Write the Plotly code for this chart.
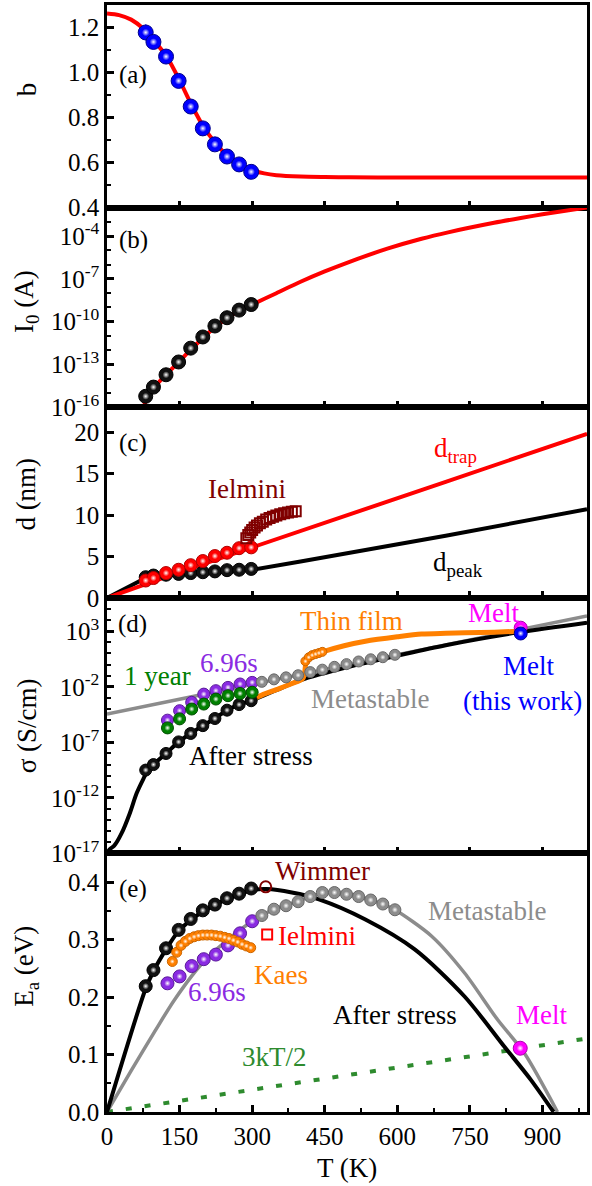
import plotly.graph_objects as go
from plotly.subplots import make_subplots

FONT = "Liberation Serif, serif"

# ---------------- data ----------------
T_pts = [80, 96, 122, 148, 173, 198, 223, 248, 273, 298]
T_pts8 = [125, 150, 175, 200, 225, 250, 275, 300]
T_meta = [320, 345, 370, 395, 420, 445, 470, 495, 520, 545, 570, 595]

# (a) exponent b
b_pts = [1.178, 1.136, 1.071, 0.963, 0.849, 0.752, 0.681, 0.627, 0.592, 0.559]
b_err = [0.035, 0, 0, 0, 0, 0, 0, 0, 0, 0]
T_bfit = [0, 25, 50, 75, 100, 125, 150, 175, 200, 225, 250, 275, 300, 325, 350, 400, 450, 500, 600, 800, 992]
b_fit = [1.262, 1.255, 1.235, 1.195, 1.135, 1.065, 0.965, 0.855, 0.757, 0.685, 0.628, 0.59, 0.566, 0.552, 0.544,
         0.538, 0.536, 0.535, 0.534, 0.534, 0.534]

# (b) prefactor I0
I0_pts = [5.9e-16, 2.6e-15, 1.9e-14, 1.5e-13, 1.4e-12, 8.5e-12, 5.0e-11, 1.9e-10, 6.5e-10, 1.6e-9]
T_Ifit = [75, 80, 100, 125, 150, 175, 200, 225, 250, 275, 300, 350, 400, 450, 500, 581, 650, 705, 800, 855, 900, 992]
I0_fit = [1e-16, 2.5e-16, 3.0e-15, 2.4e-14, 1.7e-13, 1.3e-12, 8e-12, 4.8e-11, 1.9e-10, 6.3e-10, 1.6e-9, 1.0e-8,
          6.3e-8, 3.35e-7, 1.53e-6, 1.38e-5, 6.56e-5, 1.85e-4, 8.6e-4, 1.88e-3, 3.39e-3, 1.02e-2]

# (c) distances
dtrap_pts = [2.1, 2.4, 3.0, 3.4, 3.95, 4.45, 5.05, 5.45, 6.0, 6.1]
dpeak_pts = [2.5, 2.7, 2.8, 2.9, 3.0, 3.1, 3.2, 3.35, 3.4, 3.5]
T_dtrap = [0, 80, 150, 300, 400, 700, 992]
dtrap_line = [0, 1.7, 3.1, 6.1, 8.1, 14.0, 19.8]
T_dpeak = [0, 40, 80, 125, 200, 300, 400, 700, 992]
dpeak_line = [0, 1.2, 2.4, 2.75, 3.05, 3.4, 4.4, 7.5, 10.7]
T_ielm_c = [288, 292, 296, 300, 305, 310, 316, 322, 329, 336, 343, 350, 358, 366, 374, 382, 390]
d_ielm_c = [7.2, 7.6, 7.9, 8.2, 8.5, 8.75, 9.0, 9.2, 9.45, 9.65, 9.8, 9.95, 10.1, 10.2, 10.3, 10.4, 10.45]

# (d) conductivity
sig_after = [3.2e-10, 1.0e-9, 1.0e-8, 1.1e-7, 6.3e-7, 3.2e-6, 1.4e-5, 7.9e-5, 2.5e-4, 5.6e-4]
sig_696s = [1.0e-5, 7.1e-5, 4.0e-4, 2.2e-3, 4.5e-3, 8.9e-3, 1.8e-2, 2.5e-2]
sig_1yr = [2.0e-6, 1.3e-5, 1.0e-4, 2.8e-4, 7.9e-4, 1.6e-3, 2.5e-3, 3.2e-3]
sig_meta = [2.8e-2, 4.7e-2, 7.1e-2, 0.11, 0.21, 0.35, 0.63, 1.1, 1.9, 3.0, 4.6, 7.6]
T_sig_after_line = [0, 6, 15, 30, 47, 61, 75, 85, 96, 122, 148, 173, 198, 223, 248, 273, 298, 350, 400, 500, 600,
                    700, 850, 992]
sig_after_line = [1e-17, 2.5e-17, 5e-17, 6.3e-16, 4.0e-14, 2.5e-12, 5.0e-11, 3.2e-10, 1.0e-9, 1.0e-8, 1.1e-7,
                  6.3e-7, 3.2e-6, 1.4e-5, 7.9e-5, 2.5e-4, 5.6e-4, 5.0e-3, 4.0e-2, 0.63, 6.3, 56, 790, 6.0e3]
T_sig_meta_line = [0, 200, 400, 600, 800, 992]
sig_meta_line = [3.5e-5, 2.1e-3, 0.13, 7.8, 470, 2.4e4]
T_thin = [298, 320, 350, 380, 405, 412, 420, 430, 440, 452, 490, 534, 600, 650, 700, 740, 800, 855]
sig_thin = [6.3e-4, 1.8e-3, 5.6e-3, 1.8e-2, 5.6e-2, 2.0, 5.0, 7.9, 11, 17, 50, 126, 316, 560, 660, 720, 830, 1000]
T_thin_pts = [410, 417, 424, 431, 438, 445]
sig_thin_pts = [2.0, 4.5, 7.1, 8.9, 11, 14]
T_melt = [855]
sig_melt_lit = [2.1e3]
sig_melt_this = [6.3e2]

# (e) activation energy
Ea_after = [0.219, 0.247, 0.285, 0.317, 0.336, 0.351, 0.361, 0.372, 0.380, 0.389]
T_Ea_after_line = [0, 80, 96, 122, 148, 173, 198, 223, 248, 273, 298, 330, 382, 438, 534, 636, 739, 821, 876, 923]
Ea_after_line = [0, 0.215, 0.245, 0.283, 0.315, 0.334, 0.349, 0.36, 0.371, 0.379, 0.386, 0.388, 0.382, 0.37,
                 0.335, 0.283, 0.201, 0.114, 0.056, 0.0]
Ea_696s = [0.224, 0.236, 0.254, 0.266, 0.274, 0.29, 0.311, 0.332]
T_kaes = [135, 144, 153, 162, 171, 180, 189, 198, 207, 216, 225, 234, 243, 252, 261, 270, 279, 288, 297]
Ea_kaes = [0.262, 0.278, 0.29, 0.297, 0.302, 0.305, 0.307, 0.308, 0.308, 0.308, 0.307, 0.306, 0.304, 0.302,
           0.299, 0.296, 0.292, 0.289, 0.286]
Ea_meta = [0.342, 0.353, 0.359, 0.366, 0.375, 0.382, 0.382, 0.379, 0.375, 0.369, 0.362, 0.352]
T_Ea_meta_line = [0, 50, 100, 140, 200, 250, 300, 320, 345, 370, 395, 420, 445, 470, 495, 520, 545, 570, 595, 671,
                  739, 807, 862, 931]
Ea_meta_line = [0, 0.072, 0.142, 0.196, 0.262, 0.3, 0.332, 0.342, 0.353, 0.36, 0.367, 0.375, 0.381, 0.382, 0.379,
                0.375, 0.369, 0.362, 0.352, 0.306, 0.242, 0.161, 0.103, 0.0]
T_wimmer = [328]
Ea_wimmer = [0.392]
T_ielm_e = [331]
Ea_ielm_e = [0.309]
T_3kt = [0, 992]
Ea_3kt = [0, 0.128]
T_melt_e = [854]
Ea_melt_e = [0.111]

x_ticks = [0, 150, 300, 450, 600, 750, 900]

# ---------------- colours ----------------
BLUE = "#0000ff"
RED = "#ff0000"
BLACK = "#000000"
GRAY = "#8c8c8c"
GREEN = "#008000"
PURPLE = "#8a2be2"
ORANGE = "#ff8000"
MAGENTA = "#ff00ff"
MAROON = "#800000"
DGREEN = "#2e8b2e"

fig = make_subplots(rows=5, cols=1, shared_xaxes=True, vertical_spacing=0,
                    row_heights=[203, 200, 191, 256, 259])


def line(row, x, y, color, width=4, dash=None, smooth=False):
    ln = dict(color=color, width=width, dash=dash)
    if smooth:
        ln.update(shape="spline", smoothing=0.8)
    fig.add_trace(go.Scatter(x=x, y=y, mode="lines", line=ln,
                             showlegend=False, hoverinfo="skip"), row=row, col=1)


def spheres(row, x, y, color, size, edge, err=None):
    fig.add_trace(go.Scatter(x=x, y=y, mode="markers",
                             marker=dict(color=color, size=size, line=dict(color=edge, width=1)),
                             error_y=err, showlegend=False, hoverinfo="skip"), row=row, col=1)
    fig.add_trace(go.Scatter(x=x, y=y, mode="markers",
                             marker=dict(color=color, size=size * 0.5, line=dict(width=0),
                                         gradient=dict(type="radial", color="white")),
                             showlegend=False, hoverinfo="skip"), row=row, col=1)


def open_marker(row, x, y, color, symbol, size):
    fig.add_trace(go.Scatter(x=x, y=y, mode="markers",
                             marker=dict(color=color, size=size, symbol=symbol,
                                         line=dict(color=color, width=2)),
                             showlegend=False, hoverinfo="skip"), row=row, col=1)


# (a)
line(1, T_bfit, b_fit, RED, 4, smooth=True)
spheres(1, T_pts, b_pts, BLUE, 15, "#00008b",
        err=dict(type="data", array=b_err, color=BLUE, thickness=1.5, width=0))

# (b)
line(2, T_Ifit, I0_fit, RED, 4, smooth=True)
spheres(2, T_pts, I0_pts, "#111111", 14, BLACK)

# (c)
line(3, T_dpeak, dpeak_line, BLACK, 4)
line(3, T_dtrap, dtrap_line, RED, 4)
spheres(3, T_pts, dpeak_pts, "#111111", 13, BLACK)
spheres(3, T_pts, dtrap_pts, RED, 13, "#b00000")
open_marker(3, T_ielm_c, d_ielm_c, MAROON, "square-open", 10)

# (d)
line(4, T_sig_meta_line, sig_meta_line, GRAY, 3.5)
line(4, T_sig_after_line, sig_after_line, BLACK, 4, smooth=True)
line(4, T_thin, sig_thin, ORANGE, 5, smooth=True)
spheres(4, T_pts, sig_after, "#111111", 12, BLACK)
spheres(4, T_pts8, sig_696s, PURPLE, 12, "#5a1a9a")
spheres(4, T_pts8, sig_1yr, GREEN, 12, "#004d00")
spheres(4, T_meta, sig_meta, GRAY, 11, "#666666")
spheres(4, T_thin_pts, sig_thin_pts, ORANGE, 9, "#cc6600")
spheres(4, T_melt, sig_melt_lit, MAGENTA, 13, "#b000b0")
spheres(4, T_melt, sig_melt_this, BLUE, 13, "#00008b")

# (e)
line(5, T_3kt, Ea_3kt, DGREEN, 4, dash="6px,13px")
line(5, T_Ea_meta_line, Ea_meta_line, GRAY, 3.5, smooth=True)
line(5, T_Ea_after_line, Ea_after_line, BLACK, 4, smooth=True)
spheres(5, T_pts, Ea_after, "#111111", 13, BLACK)
spheres(5, T_pts8, Ea_696s, PURPLE, 13, "#5a1a9a")
spheres(5, T_kaes, Ea_kaes, ORANGE, 10, "#cc6600")
spheres(5, T_meta, Ea_meta, GRAY, 12, "#666666")
open_marker(5, T_wimmer, Ea_wimmer, MAROON, "circle-open", 11)
open_marker(5, T_ielm_e, Ea_ielm_e, RED, "square-open", 10)
spheres(5, T_melt_e, Ea_melt_e, MAGENTA, 14, "#b000b0")

# ---------------- axes ----------------
TICKFONT = dict(family=FONT, size=25, color="black")
for r in range(1, 6):
    xa = dict(range=[0, 992], showline=True, linewidth=2.5, linecolor="black", mirror=True,
              ticks="inside", ticklen=7, tickwidth=2.5, tickcolor="black",
              tickvals=x_ticks, showgrid=False, zeroline=False,
              showticklabels=(r == 5), tickfont=TICKFONT)
    if r >= 4:
        xa["minor"] = dict(ticks="inside", ticklen=4, tickwidth=2, tickcolor="black", dtick=75, tick0=0)
    fig.update_xaxes(row=r, col=1, **xa)

common_y = dict(showline=True, linewidth=2.5, linecolor="black", mirror=True, ticks="inside",
                ticklen=7, tickwidth=2.5, tickcolor="black", showgrid=False, zeroline=False,
                tickfont=TICKFONT)

fig.update_yaxes(row=1, col=1, range=[0.4, 1.3], tickvals=[0.4, 0.6, 0.8, 1.0, 1.2],
                 ticktext=["0.4", "0.6", "0.8", "1.0", "1.2"],
                 minor=dict(ticks="inside", ticklen=4, tickwidth=2, tickcolor="black", dtick=0.1, tick0=0.4),
                 **common_y)
fig.update_yaxes(row=2, col=1, type="log", range=[-16, -2],
                 tickvals=[1e-16, 1e-13, 1e-10, 1e-7, 1e-4],
                 ticktext=["10<sup>-16</sup>", "10<sup>-13</sup>", "10<sup>-10</sup>", "10<sup>-7</sup>",
                           "10<sup>-4</sup>"],
                 minor=dict(ticks="inside", ticklen=4, tickwidth=2, tickcolor="black",
                            tickvals=[10.0 ** k for k in range(-16, -1)]),
                 **common_y)
fig.update_yaxes(row=3, col=1, range=[0, 23], tickvals=[0, 5, 10, 15, 20], **common_y)
fig.update_yaxes(row=4, col=1, type="log", range=[-17, 6],
                 tickvals=[1e-17, 1e-12, 1e-7, 1e-2, 1e3],
                 ticktext=["10<sup>-17</sup>", "10<sup>-12</sup>", "10<sup>-7</sup>", "10<sup>-2</sup>",
                           "10<sup>3</sup>"],
                 minor=dict(ticks="inside", ticklen=4, tickwidth=2, tickcolor="black",
                            tickvals=[10.0 ** k for k in range(-17, 7)]),
                 **common_y)
fig.update_yaxes(row=5, col=1, range=[0, 0.45], tickvals=[0, 0.1, 0.2, 0.3, 0.4],
                 ticktext=["0.0", "0.1", "0.2", "0.3", "0.4"],
                 minor=dict(ticks="inside", ticklen=4, tickwidth=2, tickcolor="black", dtick=0.05, tick0=0),
                 **common_y)

# ---------------- annotations ----------------
ann = []


def text(row, x, y, s, color, size=27):
    xr = "x" if row == 1 else f"x{row}"
    yr = "y" if row == 1 else f"y{row}"
    ann.append(dict(x=x, y=y, xref=xr, yref=yr, text=s, showarrow=False,
                    font=dict(family=FONT, size=size, color=color), xanchor="center", yanchor="middle"))


# panel letters
text(1, 53, 0.991, "(a)", BLACK, 25)
text(2, 55, -4.24, "(b)", BLACK, 25)
text(3, 53, 18.7, "(c)", BLACK, 25)
text(4, 53, 3.66, "(d)", BLACK, 25)
text(5, 53, 0.388, "(e)", BLACK, 25)

# (c)
text(3, 290, 13.1, "Ielmini", MAROON)
text(3, 721, 17.9, "d<sub>trap</sub>", RED)
text(3, 726, 4.1, "d<sub>peak</sub>", BLACK)

# (d)  (log axis: y given as log10)
text(4, 505, 3.93, "Thin film", ORANGE)
text(4, 799, 4.65, "Melt", MAGENTA)
text(4, 871, -0.11, "Melt", BLUE)
text(4, 858, -3.25, "(this work)", BLUE)
text(4, 544, -3.07, "Metastable", GRAY)
text(4, 298, -8.2, "After stress", BLACK)
text(4, 105, -1.0, "1 year", GREEN)
text(4, 253, 0.16, "6.96s", PURPLE)

# (e)
text(5, 446, 0.419, "Wimmer", MAROON)
text(5, 433, 0.306, "Ielmini", RED)
text(5, 359, 0.239, "Kaes", ORANGE)
text(5, 228, 0.208, "6.96s", PURPLE)
text(5, 347, 0.096, "3kT/2", DGREEN)
text(5, 596, 0.169, "After stress", BLACK)
text(5, 785, 0.349, "Metastable", GRAY)
text(5, 897, 0.169, "Melt", MAGENTA)

# axis titles
TITLEFONT = dict(family=FONT, size=27, color="black")
for s, py in [("b", 88), ("I<sub>0</sub> (A)", 300), ("d (nm)", 493), ("σ (S/cm)", 725),
              ("E<sub>a</sub> (eV)", 966)]:
    ann.append(dict(x=(26 - 107) / 483, y=(1112 - py) / 1109, xref="paper", yref="paper", text=s,
                    textangle=-90, showarrow=False, font=TITLEFONT, xanchor="center", yanchor="middle"))
ann.append(dict(x=0.5, y=(1112 - 1168) / 1109, xref="paper", yref="paper", text="T (K)", showarrow=False,
                font=TITLEFONT, xanchor="center", yanchor="middle"))

fig.update_layout(width=592, height=1186, margin=dict(l=107, r=2, t=3, b=74),
                  plot_bgcolor="white", paper_bgcolor="white", showlegend=False,
                  annotations=ann, font=dict(family=FONT))

fig.write_html("out.html", config={"displayModeBar": False})
